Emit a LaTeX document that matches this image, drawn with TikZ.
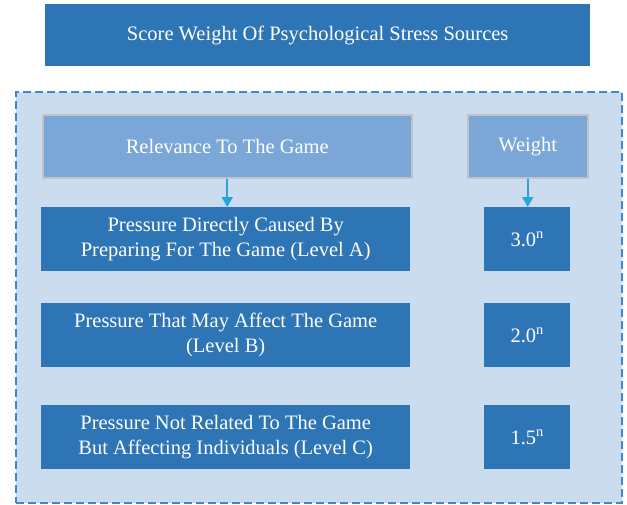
\documentclass[tikz,border=0pt]{standalone}
\usepackage{fontspec}
\setmainfont{Liberation Serif}
\usetikzlibrary{arrows.meta}
\definecolor{darkblue}{HTML}{2E75B6}
\definecolor{midblue}{HTML}{7BA7D8}
\definecolor{paleblue}{HTML}{CADCEE}
\definecolor{dashblue}{HTML}{3F88D0}
\definecolor{arrowblue}{HTML}{2AA4DC}
\definecolor{greyedge}{HTML}{BFC4CA}
\tikzset{
  x=1pt, y=-1pt,
  box/.style={anchor=north west, inner sep=0pt, align=center, text=white,
    font=\fontsize{20.5}{25}\selectfont},
  darkbox/.style={box, fill=darkblue},
  headbox/.style={box, fill=midblue, draw=greyedge, line width=1.5pt},
  flow/.style={draw=arrowblue, line width=1.6pt, -{Triangle[length=10pt,width=11pt]}},
}
\begin{document}
\begin{tikzpicture}
\useasboundingbox (0,0) rectangle (627,504);
% title banner
\node[darkbox, minimum width=545pt, minimum height=62pt] (title) at (45,4)
  {Score Weight Of Psychological Stress Sources};
% dashed panel
\node[anchor=north west, fill=paleblue, draw=dashblue, line width=1.8pt,
  dash pattern=on 8pt off 4pt, minimum width=606pt, minimum height=411pt,
  inner sep=0pt] (panel) at (15,91) {};
% column headers
\node[headbox, minimum width=369pt, minimum height=63pt] (rel) at (42,114)
  {Relevance To The Game};
\node[headbox, minimum width=120pt, minimum height=63pt] (wt) at (467,114)
  {Weight};
% rows
\node[darkbox, minimum width=369pt, minimum height=64pt] (la) at (41,207)
  {Pressure Directly Caused By\\Preparing For The Game (Level A)};
\node[darkbox, minimum width=86pt, minimum height=64pt] (wa) at (484,207)
  {3.0\textsuperscript{n}};
\node[darkbox, minimum width=369pt, minimum height=64pt] (lb) at (41,303)
  {Pressure That May Affect The Game\\(Level B)};
\node[darkbox, minimum width=86pt, minimum height=64pt] (wb) at (484,303)
  {2.0\textsuperscript{n}};
\node[darkbox, minimum width=369pt, minimum height=64pt] (lc) at (41,405)
  {Pressure Not Related To The Game\\But Affecting Individuals (Level C)};
\node[darkbox, minimum width=86pt, minimum height=64pt] (wc) at (484,405)
  {1.5\textsuperscript{n}};
% arrows from headers to first row
\draw[flow] (rel.south) -- (rel.south |- la.north);
\draw[flow] (wt.south) -- (wt.south |- wa.north);
\end{tikzpicture}
\end{document}
